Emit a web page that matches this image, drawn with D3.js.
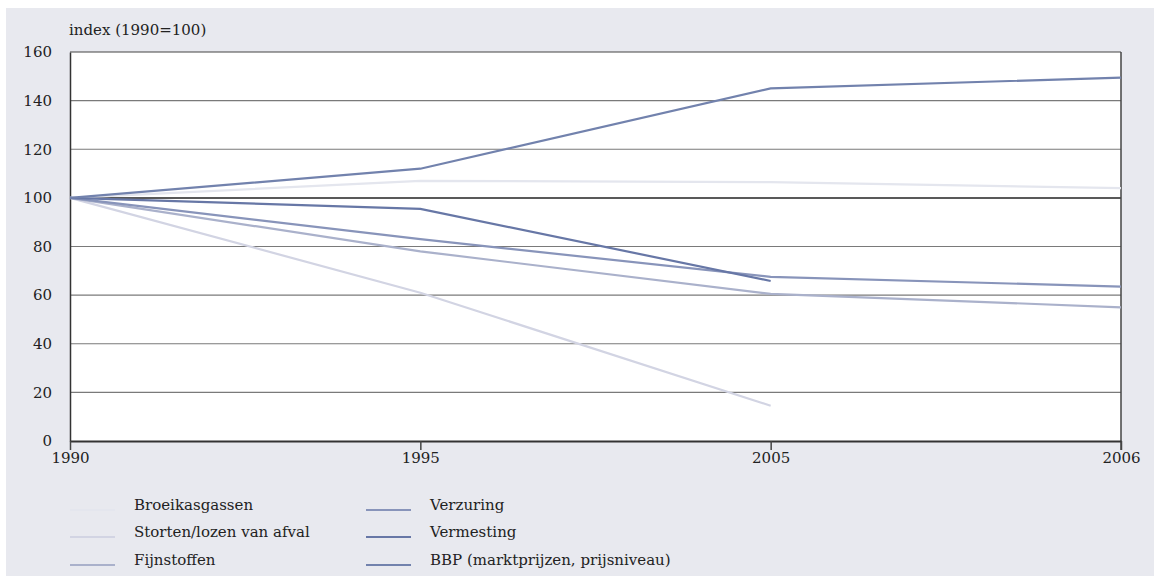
<!DOCTYPE html>
<html>
<head>
<meta charset="utf-8">
<script src="https://cdn.jsdelivr.net/npm/d3@7"></script>
<style>
  body { margin: 0; background: #fff; }
  svg { display: block; }
  text { font-family: "DejaVu Serif", "Times New Roman", "Liberation Serif", serif; fill: #222; }
</style>
</head>
<body>
<svg id="chart"></svg>
<script>
const years = ["1990", "1995", "2005", "2006"];
const yTicks = [0, 20, 40, 60, 80, 100, 120, 140, 160];

const seriesNames = ["Broeikasgassen", "Storten/lozen van afval", "Fijnstoffen",
  "Verzuring", "Vermesting", "BBP (marktprijzen, prijsniveau)"];
const broeikasgassen = [100, 107, 106.5, 104];
const storten = [100, 61, 14.5, null];
const fijnstoffen = [100, 78, 60.5, 55];
const verzuring = [100, 83, 67.5, 63.5];
const vermesting = [100, 95.5, 65.8, null];
const bbp = [100, 112, 145, 149.5];
const colors = ["#e4e6ee", "#d2d4e3", "#aab1cb", "#8894ba", "#6777a6", "#7282ad"];

const series = [broeikasgassen, storten, fijnstoffen, verzuring, vermesting, bbp];

const width = 1154, height = 576;
const margin = { top: 52, right: 33, bottom: 135, left: 70 };
const fontSize = 15;

const svg = d3.select("#chart")
    .attr("width", width)
    .attr("height", height);

// grey panel
svg.append("rect")
    .attr("x", 6).attr("y", 8)
    .attr("width", width - 6).attr("height", height - 8)
    .attr("fill", "#e8e9ef");

const x = d3.scalePoint()
    .domain(years)
    .range([margin.left, width - margin.right]);

const y = d3.scaleLinear()
    .domain([0, 160])
    .range([height - margin.bottom, margin.top]);

// plot area
svg.append("rect")
    .attr("x", x.range()[0]).attr("y", y(160))
    .attr("width", x.range()[1] - x.range()[0])
    .attr("height", y(0) - y(160))
    .attr("fill", "#fff");

// gridlines
svg.append("g")
    .selectAll("line")
    .data(yTicks.filter(d => d > 0))
    .join("line")
    .attr("x1", x.range()[0]).attr("x2", x.range()[1])
    .attr("y1", d => y(d)).attr("y2", d => y(d))
    .attr("stroke", d => d === 100 ? "#222" : (d === 160 ? "#444" : "#7a7a7a"))
    .attr("stroke-width", d => d === 100 ? 1.5 : 1.2);

// right border
svg.append("line")
    .attr("x1", x.range()[1]).attr("x2", x.range()[1])
    .attr("y1", y(160)).attr("y2", y(0) + 9)
    .attr("stroke", "#444").attr("stroke-width", 1.5);

// y axis
svg.append("g")
    .attr("transform", `translate(${margin.left},0)`)
    .call(d3.axisLeft(y).tickValues(yTicks).tickSize(0).tickPadding(18))
    .call(g => g.attr("font-family", null))
    .call(g => g.select(".domain").attr("stroke", "#333").attr("stroke-width", 1.5))
    .call(g => g.selectAll("text").attr("font-size", fontSize).attr("fill", "#222"));

// x axis
svg.append("g")
    .attr("transform", `translate(0,${y(0)})`)
    .call(d3.axisBottom(x).tickSize(9).tickPadding(2).tickSizeOuter(0))
    .call(g => g.attr("font-family", null))
    .call(g => g.select(".domain").attr("stroke", "#333").attr("stroke-width", 2))
    .call(g => g.selectAll(".tick line").attr("stroke", "#444").attr("stroke-width", 1.5))
    .call(g => g.selectAll("text").attr("font-size", fontSize).attr("fill", "#222"));

svg.append("text")
    .attr("x", 69).attr("y", 35)
    .attr("font-size", fontSize)
    .text("index (1990=100)");

// lines
const line = d3.line()
    .defined(d => d.v !== null)
    .x(d => x(d.year))
    .y(d => y(d.v));

series.forEach((vals, i) => {
  svg.append("path")
      .datum(vals.map((v, j) => ({ year: years[j], v: v })))
      .attr("fill", "none")
      .attr("stroke", colors[i])
      .attr("stroke-width", 2.2)
      .attr("d", line);
});

// legend
const legendCols = [70, 366];
const legendRows = [510, 537, 565];
seriesNames.forEach((name, i) => {
  const lx = legendCols[Math.floor(i / 3)];
  const ly = legendRows[i % 3];
  svg.append("line")
      .attr("x1", lx).attr("x2", lx + 45)
      .attr("y1", ly).attr("y2", ly)
      .attr("stroke", colors[i]).attr("stroke-width", 2.2);
  svg.append("text")
      .attr("x", lx + 64).attr("y", ly)
      .attr("font-size", fontSize)
      .text(name);
});
</script>
</body>
</html>
